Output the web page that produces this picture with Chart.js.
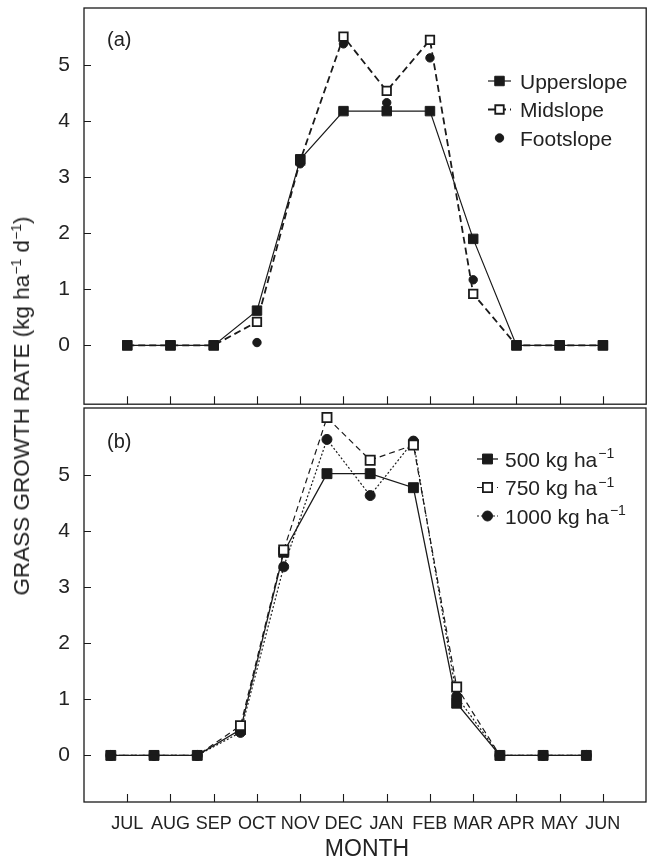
<!DOCTYPE html>
<html>
<head>
<meta charset="utf-8">
<script src="https://cdn.jsdelivr.net/npm/chart.js@4.4.0/dist/chart.umd.min.js"></script>
<style>
  body { margin: 0; background: #fff; width: 654px; height: 860px; position: relative; overflow: hidden;
         font-family: 'Liberation Sans', Arial, sans-serif; color: #222; }
  canvas { position: absolute; left: 0; }
  #ca { top: 0; }
  #cb { top: 400px; }
  #ytitle { position: absolute; left: 22px; top: 406px; transform: translate(-50%, -50%) rotate(-90deg);
            white-space: nowrap; font-size: 22.5px; }
  #xtitle { position: absolute; left: 367px; top: 848px; transform: translate(-50%, -50%); font-size: 23px; }
  sup { font-size: 14px; line-height: 0; }
</style>
</head>
<body>
<canvas id="ca" width="654" height="412"></canvas>
<canvas id="cb" width="654" height="460"></canvas>
<div id="ytitle">GRASS GROWTH RATE (kg ha<sup>−1</sup> d<sup>−1</sup>)</div>
<div id="xtitle">MONTH</div>
<script>
const months = ['JUL', 'AUG', 'SEP', 'OCT', 'NOV', 'DEC', 'JAN', 'FEB', 'MAR', 'APR', 'MAY', 'JUN'];
const yTicks = [0, 1, 2, 3, 4, 5];

// (a) slope position
const upperslope = [0, 0, 0, 0.62, 3.32, 4.18, 4.18, 4.18, 1.9, 0, 0, 0];
const midslope   = [0, 0, 0, 0.42, 3.30, 5.51, 4.54, 5.45, 0.92, 0, 0, 0];
const footslope  = [0, 0, 0, 0.05, 3.24, 5.38, 4.33, 5.13, 1.17, 0, 0, 0];

// (b) herbage mass
const rate500  = [0, 0, 0, 0.46, 3.62, 5.02, 5.02, 4.77, 0.93, 0, 0, 0];
const rate750  = [0, 0, 0, 0.53, 3.66, 6.02, 5.26, 5.53, 1.22, 0, 0, 0];
const rate1000 = [0, 0, 0, 0.41, 3.36, 5.63, 4.63, 5.60, 1.05, 0, 0, 0];
const shiftB = -0.38; // panel (b) points sit a bit left of the month ticks

const ink = '#1a1a1a';
const FONT = "'Liberation Sans', Arial, sans-serif";

function pts(vals, shift) {
  return vals.map((v, i) => ({ x: i + 1 + shift, y: v }));
}

function scales(yMin, yMax, showX) {
  return {
    x: {
      type: 'linear', min: 0, max: 13, display: showX,
      grid: { display: false }, border: { display: false },
      afterBuildTicks: s => { s.ticks = months.map((m, i) => ({ value: i + 1 })); },
      ticks: {
        autoSkip: false, maxRotation: 0, padding: 3, color: '#222',
        font: { family: "'Liberation Sans Narrow', " + FONT, size: 18 },
        callback: v => months[v - 1] || ''
      },
      afterFit: s => { s.height = showX ? 58 : 0; s.paddingLeft = 0; s.paddingRight = 0; }
    },
    y: {
      min: yMin, max: yMax,
      grid: { display: false }, border: { display: false },
      afterBuildTicks: s => { s.ticks = yTicks.map(v => ({ value: v })); },
      ticks: { padding: 6, color: '#222', font: { family: FONT, size: 21 } },
      afterFit: s => { s.width = 84; s.paddingTop = 0; s.paddingBottom = 0; }
    }
  };
}

// frame, inward ticks, panel tag and legend
const decor = {
  id: 'decor',
  afterDraw(chart, args, o) {
    const { ctx, chartArea: a, scales: { x, y } } = chart;
    ctx.save();
    ctx.strokeStyle = ink;
    ctx.lineWidth = 1.3;
    ctx.strokeRect(a.left, a.top, a.right - a.left, a.bottom - a.top);
    ctx.lineWidth = 1.1;
    ctx.beginPath();
    yTicks.forEach(v => {
      const py = Math.round(y.getPixelForValue(v)) + 0.5;
      ctx.moveTo(a.left, py); ctx.lineTo(a.left + 7, py);
    });
    months.forEach((m, i) => {
      const px = Math.round(x.getPixelForValue(i + 1)) + 0.5;
      ctx.moveTo(px, a.bottom); ctx.lineTo(px, a.bottom - 8);
    });
    ctx.stroke();

    ctx.fillStyle = '#222';
    ctx.textAlign = 'left';
    ctx.textBaseline = 'alphabetic';
    ctx.font = '20px ' + FONT;
    ctx.fillText(o.tag, o.tagX, o.tagY + 7);

    o.legend.forEach((it, k) => {
      const ds = chart.data.datasets[it.ds];
      const ly = o.ly + k * o.dy;
      ctx.strokeStyle = ink;
      if (ds.showLine !== false) {
        ctx.setLineDash(ds.borderDash || []);
        ctx.lineWidth = ds.borderWidth;
        ctx.beginPath(); ctx.moveTo(o.lx1, ly); ctx.lineTo(o.lx2, ly); ctx.stroke();
        ctx.setLineDash([]);
      }
      const r = it.r || ds.pointRadius;
      ctx.fillStyle = ds.pointBackgroundColor;
      ctx.lineWidth = ds.pointBorderWidth;
      ctx.beginPath();
      if (ds.pointStyle === 'rect') {
        const h = r / Math.SQRT2;
        ctx.rect(o.mx - h, ly - h, 2 * h, 2 * h);
      } else {
        ctx.arc(o.mx, ly, r, 0, Math.PI * 2);
      }
      ctx.fill(); ctx.stroke();

      ctx.fillStyle = '#222';
      ctx.font = '21px ' + FONT;
      ctx.fillText(it.text, o.tx, ly + 7.5);
      if (it.sup) {
        const w = ctx.measureText(it.text).width;
        ctx.font = '14px ' + FONT;
        ctx.fillText(it.sup, o.tx + w + 1, ly - 1);
      }
    });
    ctx.restore();
  }
};

Chart.defaults.font.family = FONT;

new Chart(document.getElementById('ca'), {
  type: 'line',
  data: {
    datasets: [
      { label: 'Upperslope', data: pts(upperslope, 0), borderColor: ink, borderWidth: 1.2,
        pointStyle: 'rect', pointRadius: 6.7, pointBackgroundColor: ink, pointBorderColor: ink, pointBorderWidth: 1 },
      { label: 'Midslope', data: pts(midslope, 0), borderColor: ink, borderWidth: 1.8, borderDash: [7, 4],
        pointStyle: 'rect', pointRadius: 6, pointBackgroundColor: '#fff', pointBorderColor: ink, pointBorderWidth: 1.8 },
      { label: 'Footslope', data: pts(footslope, 0), showLine: false,
        pointStyle: 'circle', pointRadius: 4.2, pointBackgroundColor: ink, pointBorderColor: ink, pointBorderWidth: 1 }
    ]
  },
  options: {
    responsive: false, animation: false,
    layout: { padding: { top: 8, right: 3, bottom: 6, left: 0 } },
    elements: { line: { tension: 0 } },
    scales: scales(-1.05, 6.02, false),
    plugins: {
      legend: { display: false }, tooltip: { enabled: false },
      decor: {
        tag: '(a)', tagX: 107, tagY: 39,
        lx1: 488, lx2: 511, mx: 499.5, tx: 520, ly: 81, dy: 28.5,
        legend: [{ ds: 0, text: 'Upperslope' }, { ds: 1, text: 'Midslope' }, { ds: 2, text: 'Footslope' }]
      }
    }
  },
  plugins: [decor]
});

new Chart(document.getElementById('cb'), {
  type: 'line',
  data: {
    datasets: [
      { label: '500 kg ha−1', data: pts(rate500, shiftB), order: 3, borderColor: ink, borderWidth: 1.3,
        pointStyle: 'rect', pointRadius: 7, pointBackgroundColor: ink, pointBorderColor: ink, pointBorderWidth: 1 },
      { label: '750 kg ha−1', data: pts(rate750, shiftB), order: 1, borderColor: ink, borderWidth: 1.2, borderDash: [6, 4],
        pointStyle: 'rect', pointRadius: c => (c.raw && c.raw.y === 0 ? 0 : 6.5),
        pointBackgroundColor: '#fff', pointBorderColor: ink, pointBorderWidth: 1.8 },
      { label: '1000 kg ha−1', data: pts(rate1000, shiftB), order: 2, borderColor: ink, borderWidth: 1.2, borderDash: [2, 2],
        pointStyle: 'circle', pointRadius: 5, pointBackgroundColor: ink, pointBorderColor: ink, pointBorderWidth: 1 }
    ]
  },
  options: {
    responsive: false, animation: false,
    layout: { padding: { top: 6, right: 3, bottom: 0, left: 0 } },
    elements: { line: { tension: 0 } },
    scales: scales(-0.83, 6.19, true),
    plugins: {
      legend: { display: false }, tooltip: { enabled: false },
      decor: {
        tag: '(b)', tagX: 107, tagY: 41,
        lx1: 477, lx2: 498, mx: 487.5, tx: 505, ly: 59, dy: 28.5,
        legend: [
          { ds: 0, text: '500 kg ha', sup: '−1' },
          { ds: 1, text: '750 kg ha', sup: '−1', r: 6.5 },
          { ds: 2, text: '1000 kg ha', sup: '−1' }
        ]
      }
    }
  },
  plugins: [decor]
});
</script>
</body>
</html>
